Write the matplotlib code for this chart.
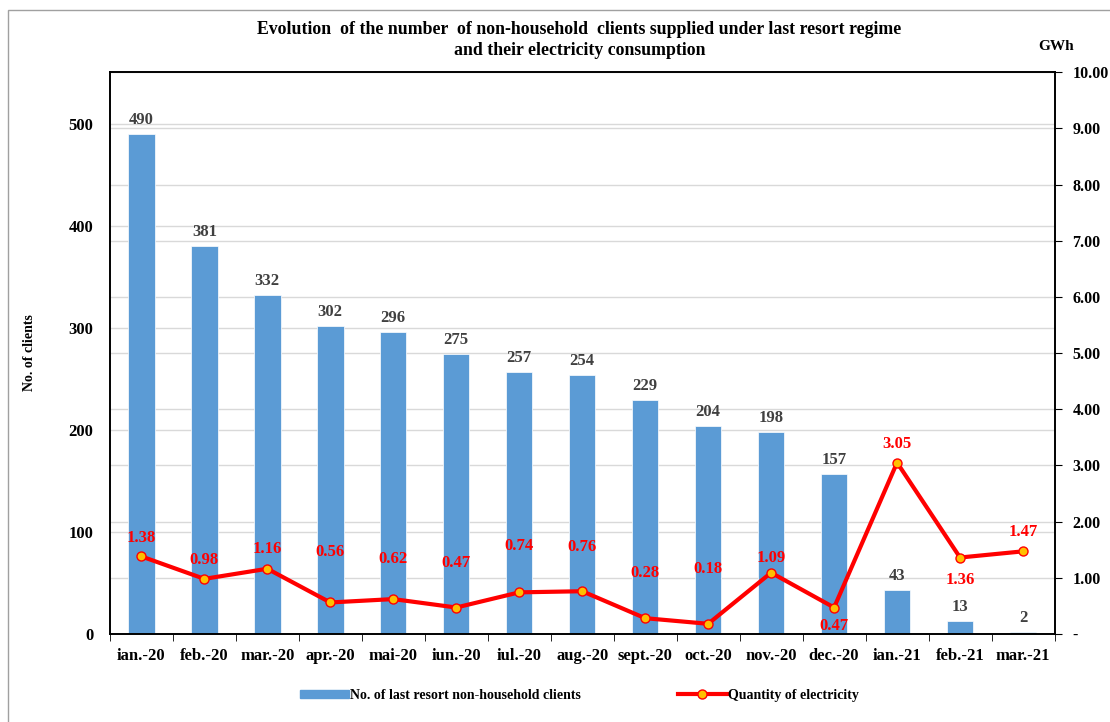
import matplotlib
matplotlib.use("Agg")
import matplotlib.pyplot as plt
import numpy as np
from matplotlib.patches import Rectangle
from matplotlib.lines import Line2D

months = ["ian.-20", "feb.-20", "mar.-20", "apr.-20", "mai-20", "iun.-20", "iul.-20", "aug.-20",
          "sept.-20", "oct.-20", "nov.-20", "dec.-20", "ian.-21", "feb.-21", "mar.-21"]
clients = [490, 381, 332, 302, 296, 275, 257, 254, 229, 204, 198, 157, 43, 13, 2]
gwh = [1.38, 0.98, 1.16, 0.56, 0.62, 0.47, 0.74, 0.76, 0.28, 0.18, 1.09, 0.47, 3.05, 1.36, 1.47]
# label offsets (pixels) for the electricity labels
gwh_label_dy = [18, 19, 20, 50, 40, 45, 46, 44, 45, 55, 15, -18, 19, -22, 19]

plt.rcParams["font.family"] = ["Liberation Serif", "DejaVu Serif"]
plt.rcParams["font.weight"] = "bold"

fig = plt.figure(figsize=(11.1, 7.22), dpi=100)
ax = fig.add_axes([0.099, 0.122, 0.851, 0.778])
ax2 = ax.twinx()

x = np.arange(len(months))
bar_c = "#5B9BD5"
grid_c = "#D9D9D9"

ax.set_xlim(-0.5, len(months) - 0.5)
ax.set_ylim(0, 551)
ax2.set_ylim(0, 10)

# gridlines for both axes, kept behind the bars
for v in range(100, 600, 100):
    ax.axhline(v, color=grid_c, lw=1, zorder=0)
for v in range(1, 11):
    ax.plot([0, 1], [v, v], transform=ax2.get_yaxis_transform(), color=grid_c, lw=1, zorder=0)

bars = ax.bar(x, clients, width=0.42, color=bar_c, edgecolor="white", lw=0.5, zorder=2)
for xi, c in zip(x, clients):
    ax.annotate(str(c), (xi, c), xytext=(0, 6), textcoords="offset pixels",
                ha="center", va="bottom", fontsize=12, fontweight="bold", color="#404040")

ax2.plot(x, gwh, color="#FF0000", lw=3, marker="o", ms=6.5, mfc="#FFC000", mec="#FF0000", mew=1, zorder=3)
for xi, g, dy in zip(x, gwh, gwh_label_dy):
    ax2.annotate(f"{g:.2f}", (xi, g), xytext=(0, dy), textcoords="offset pixels",
                 ha="center", va="center", fontsize=12, fontweight="bold", color="#FF0000")

ax.set_yticks(range(0, 600, 100))
ax.tick_params(axis="y", length=0, pad=12, labelsize=12)
ax.set_xticks(x)
ax.set_xticklabels(months, fontsize=12, fontweight="bold")
ax.set_xticks(np.arange(-0.5, len(months), 1), minor=True)
ax.tick_params(axis="x", which="major", length=0, pad=10)
ax.tick_params(axis="x", which="minor", length=5, direction="out", color="black")

ax2.set_yticks(range(0, 11))
ax2.set_yticklabels(["-"] + [f"{v:.2f}" for v in range(1, 11)], fontsize=11.5, fontweight="bold")
ax2.tick_params(axis="y", length=5, direction="out", pad=8)

for a in (ax, ax2):
    for s in a.spines.values():
        s.set_color("black")
        s.set_linewidth(1.2)

ax.set_ylabel("No. of clients", fontsize=10, fontweight="bold")
ax.yaxis.set_label_coords(-0.078, 0.5)
fig.text(0.951, 0.935, "GWh", ha="center", va="center", fontsize=11, fontweight="bold")
fig.text(0.522, 0.944, "Evolution  of the number  of non-household  clients supplied under last resort regime\nand their electricity consumption",
         ha="center", va="center", fontsize=12.8, fontweight="bold", linespacing=1.3)

handles = [Rectangle((0, 0), 1, 1, color=bar_c),
           Line2D([0], [0], color="#FF0000", lw=3, marker="o", ms=6.5, mfc="#FFC000", mec="#FF0000")]
fig.legend(handles, ["No. of last resort non-household clients", "Quantity of electricity"],
           loc="center", bbox_to_anchor=(0.522, 0.037), ncol=2, frameon=False, fontsize=10,
           columnspacing=7, handlelength=3.5, handleheight=0.5, handletextpad=0.1)

fig.patches.append(Rectangle((0.007, -0.1), 1.2, 1.086, transform=fig.transFigure,
                             fill=False, edgecolor="#A0A0A0", lw=1))

fig.savefig("out.png", dpi=100)
